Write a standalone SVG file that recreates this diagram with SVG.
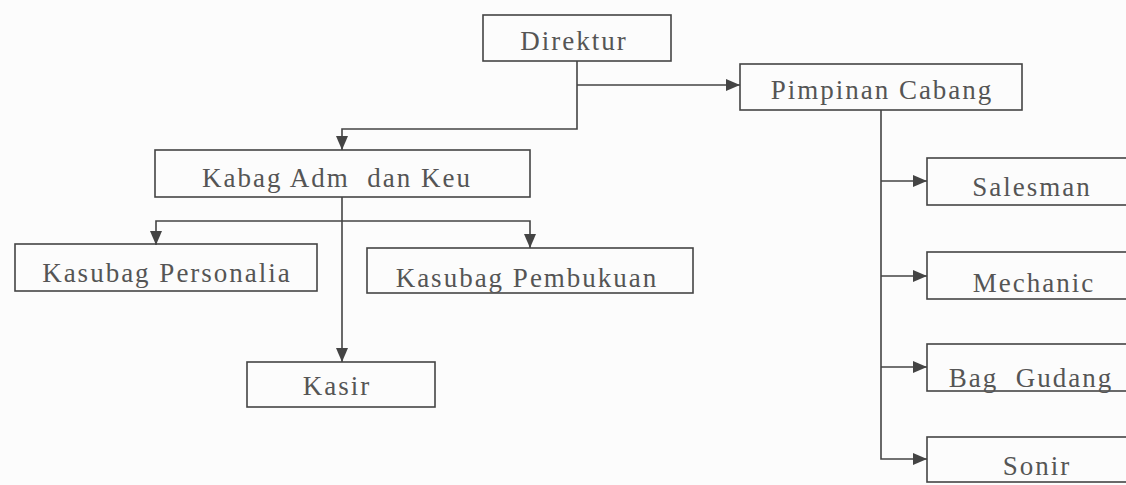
<svg xmlns="http://www.w3.org/2000/svg" width="1126" height="485" viewBox="0 0 1126 485">
<style>
.box{fill:none;stroke:#444;stroke-width:1.6}
.lbl{font-family:"Liberation Serif","Times New Roman",serif;font-size:27px;letter-spacing:2px;fill:#555;text-anchor:middle}
.con{fill:none;stroke:#444;stroke-width:1.6}
</style>
<defs>
<marker id="arr" markerUnits="userSpaceOnUse" markerWidth="15" markerHeight="13" refX="14" refY="6" orient="auto">
<path d="M0,0 L14,6 L0,12 z" fill="#444"/>
</marker>
</defs>
<rect x="0" y="0" width="1126" height="485" fill="#fcfcfc"/>
<g id="connectors">
<path class="con" d="M577,61 V129 H342 V150" marker-end="url(#arr)"/>
<path class="con" d="M577,85 H740" marker-end="url(#arr)"/>
<path class="con" d="M342,197 V362" marker-end="url(#arr)"/>
<path class="con" d="M342,221 H156 V245" marker-end="url(#arr)"/>
<path class="con" d="M342,221 H530 V248" marker-end="url(#arr)"/>
<path class="con" d="M881,110 V459 H927" marker-end="url(#arr)"/>
<path class="con" d="M881,181 H927" marker-end="url(#arr)"/>
<path class="con" d="M881,276 H927" marker-end="url(#arr)"/>
<path class="con" d="M881,367 H927" marker-end="url(#arr)"/>
</g>
<g id="direktur"><rect class="box" x="483" y="15" width="188" height="46"/><text class="lbl" x="574" y="50">Direktur</text></g>
<g id="pimpinan-cabang"><rect class="box" x="740" y="64" width="282" height="46"/><text class="lbl" x="882" y="99">Pimpinan Cabang</text></g>
<g id="kabag"><rect class="box" x="155" y="150" width="375" height="47"/><text class="lbl" x="337" y="187" xml:space="preserve">Kabag Adm  dan Keu</text></g>
<g id="kasubag-personalia"><rect class="box" x="15" y="244" width="302" height="47"/><text class="lbl" x="167" y="282">Kasubag Personalia</text></g>
<g id="kasubag-pembukuan"><rect class="box" x="367" y="248" width="326" height="45"/><text class="lbl" x="527" y="287">Kasubag Pembukuan</text></g>
<g id="kasir"><rect class="box" x="247" y="362" width="188" height="45"/><text class="lbl" x="337" y="395">Kasir</text></g>
<g id="salesman"><rect class="box" x="927" y="158" width="210" height="47"/><text class="lbl" x="1032" y="196">Salesman</text></g>
<g id="mechanic"><rect class="box" x="927" y="252" width="210" height="47"/><text class="lbl" x="1034" y="292">Mechanic</text></g>
<g id="bag-gudang"><rect class="box" x="927" y="344" width="210" height="47"/><text class="lbl" x="1031" y="387" xml:space="preserve">Bag  Gudang</text></g>
<g id="sonir"><rect class="box" x="927" y="437" width="210" height="45"/><text class="lbl" x="1037" y="475">Sonir</text></g>
</svg>
